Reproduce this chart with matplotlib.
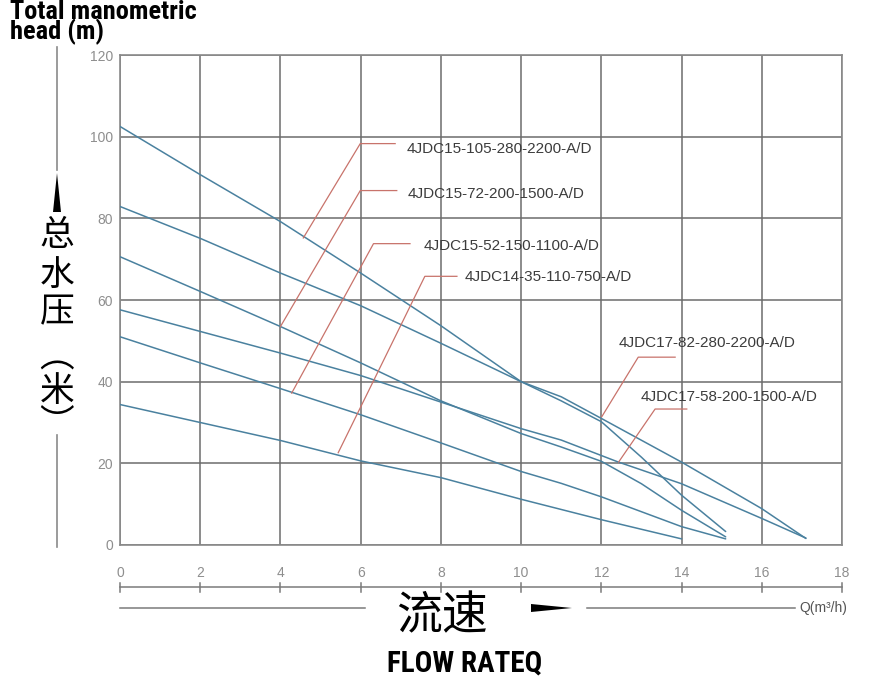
import matplotlib
matplotlib.use("Agg")
import matplotlib.pyplot as plt
from matplotlib.patches import Polygon
from matplotlib.lines import Line2D
from matplotlib import font_manager

# ---------------- data ----------------
x_ticks = [0, 2, 4, 6, 8, 10, 12, 14, 16, 18]
y_ticks = [0, 20, 40, 60, 80, 100, 120]

s15_105_x = [0, 2, 4, 6, 8, 10, 11, 12, 13, 14, 15.1]
s15_105_y = [102.5, 90.7, 79.2, 66.6, 53.7, 40, 35.3, 30.2, 21.5, 12.2, 3.3]

s17_82_x = [0, 2, 4, 6, 8, 10, 11, 12, 14, 16, 17.1]
s17_82_y = [82.9, 75.1, 66.6, 58.6, 49.4, 40, 36.3, 31.0, 20.3, 8.9, 1.6]

s15_72_x = [0, 2, 4, 6, 8, 10, 11, 12, 13, 14, 15.1]
s15_72_y = [70.6, 62.1, 53.5, 44.6, 35.3, 27.3, 24.0, 20.5, 15.0, 8.5, 2.0]

s17_58_x = [0, 2, 4, 6, 8, 10, 11, 12.4, 14, 16, 17.1]
s17_58_y = [57.6, 52.3, 47.0, 41.5, 35.0, 28.5, 25.7, 20.4, 15.0, 6.5, 1.7]

s15_52_x = [0, 2, 4, 6, 8, 10, 11, 12, 14, 15.1]
s15_52_y = [51.0, 44.6, 38.3, 31.9, 25.0, 18.0, 15.1, 11.8, 4.5, 1.5]

s14_35_x = [0, 2, 4, 6, 8, 10, 12, 14]
s14_35_y = [34.4, 30.0, 25.6, 20.6, 16.5, 11.2, 6.2, 1.5]

series = [
    (s15_105_x, s15_105_y),
    (s17_82_x, s17_82_y),
    (s15_72_x, s15_72_y),
    (s17_58_x, s17_58_y),
    (s15_52_x, s15_52_y),
    (s14_35_x, s14_35_y),
]

labels = [
    "4JDC15-105-280-2200-A/D",
    "4JDC15-72-200-1500-A/D",
    "4JDC15-52-150-1100-A/D",
    "4JDC14-35-110-750-A/D",
    "4JDC17-82-280-2200-A/D",
    "4JDC17-58-200-1500-A/D",
]

# ---------------- layout (annotation leader geometry, data units) ----------------
# (start_x, start_y, elbow_x, elbow_y, end_x, text_x, text_y)
leaders = [
    (4.57, 75.2, 5.99, 98.3, 6.86, 7.15, 97.1),
    (4.00, 53.5, 5.99, 86.8, 6.90, 7.18, 86.0),
    (4.28, 37.2, 6.32, 73.8, 7.23, 7.56, 73.3),
    (5.44, 22.6, 7.60, 65.8, 8.40, 8.60, 65.6),
    (12.01, 31.4, 12.92, 46.0, 13.84, 12.43, 49.4),
    (12.43, 20.3, 13.34, 33.3, 14.13, 12.97, 36.2),
]

BLUE = "#4a819f"
RED = "#c8736b"
GRID = "#6c6c6c"
TICKC = "#8e8e8e"
TXT = "#3c3c3c"

available = {f.name for f in font_manager.fontManager.ttflist}
heavy_font = "DejaVu Sans"
for cand in ["Liberation Sans Narrow", "Roboto Condensed", "Open Sans Condensed",
             "DejaVu Sans Condensed", "Roboto", "Liberation Sans"]:
    if cand in available:
        heavy_font = cand
        break

W, H = 884, 679
fig = plt.figure(figsize=(W / 100, H / 100), dpi=100)
fig.patch.set_facecolor("white")

ax = fig.add_axes([120 / W, 1 - 545 / H, (842 - 120) / W, (545 - 55) / H])
ax.set_xlim(0, 18)
ax.set_ylim(0, 120)
ax.set_xticks(x_ticks)
ax.set_yticks(y_ticks)
ax.grid(True, color=GRID, lw=1.1)
ax.set_axisbelow(True)
for sp in ax.spines.values():
    sp.set_color("#8a8a8a")
    sp.set_linewidth(1.2)
ax.tick_params(length=0, labelcolor=TICKC, labelsize=10)
ax.tick_params(axis="x", pad=15)
ax.tick_params(axis="y", pad=5)
for lab in ax.get_xticklabels() + ax.get_yticklabels():
    lab.set_fontfamily("Liberation Sans")

for xs, ys in series:
    ax.plot(xs, ys, color=BLUE, lw=1.1, zorder=3, solid_capstyle="round")

for lab, (sx, sy, ex, ey, hx, tx, ty) in zip(labels, leaders):
    ax.plot([sx, ex, hx], [sy, ey, ey], color=RED, lw=0.9, zorder=4)
    ax.text(tx, ty, lab, fontsize=11, color=TXT, va="center", ha="left",
            family="Liberation Sans", zorder=5)

# ruler under the axis (x in data, y in axes fraction)
bt = ax.get_xaxis_transform()
ruler_y = -(587 - 545) / 490
tick_h = 4.5 / 490
ax.add_line(Line2D([x_ticks[0], x_ticks[-1]], [ruler_y, ruler_y], transform=bt,
                   color="#7a7a7a", lw=1.1, clip_on=False))
for xt in x_ticks:
    ax.add_line(Line2D([xt, xt], [ruler_y - tick_h, ruler_y + tick_h], transform=bt,
                       color="#7a7a7a", lw=1.1, clip_on=False))

# overlay in figure pixels for decorations
ov = fig.add_axes([0, 0, 1, 1])
ov.set_xlim(0, W)
ov.set_ylim(H, 0)
ov.axis("off")
ov.patch.set_visible(False)

# flow axis arrow line
ov.plot([120, 365], [608, 608], color="#7a7a7a", lw=1.1)
ov.plot([587, 795], [608, 608], color="#7a7a7a", lw=1.1)
ov.add_patch(Polygon([(531, 604), (531, 612), (572, 608)], closed=True,
                     color="black", lw=0))
ov.text(799, 608, "Q(m³/h)", fontsize=10, color="#555555", va="center", ha="left",
        family="Liberation Sans")
ov.text(442, 616, "流速", fontsize=33, color="black", ha="center", va="center",
        family=["Noto Sans CJK SC", "DejaVu Sans"])
ov.text(465, 671, "FLOW RATEQ", fontsize=21, color="black", ha="center", va="baseline",
        family=heavy_font, weight="bold")

# head axis
ov.plot([57, 57], [47, 170], color="#8a8a8a", lw=1.2)
ov.plot([57, 57], [435, 547], color="#8a8a8a", lw=1.2)
ov.add_patch(Polygon([(53, 212), (61, 212), (57, 173)], closed=True, color="black", lw=0))
chars = ["总", "水", "压", "︵", "米", "︶"]
cy = [235, 275, 313, 357, 392, 425]
for ch, yy in zip(chars, cy):
    ov.text(57, yy, ch, fontsize=25, color="black", ha="center", va="center",
            family=["Noto Sans CJK SC", "DejaVu Sans"])

ov.text(10, 0, "Total manometric\nhead (m)", fontsize=19, weight="bold", color="black",
        family=heavy_font, ha="left", va="top", linespacing=0.72)

fig.savefig("out.png", dpi=100)
